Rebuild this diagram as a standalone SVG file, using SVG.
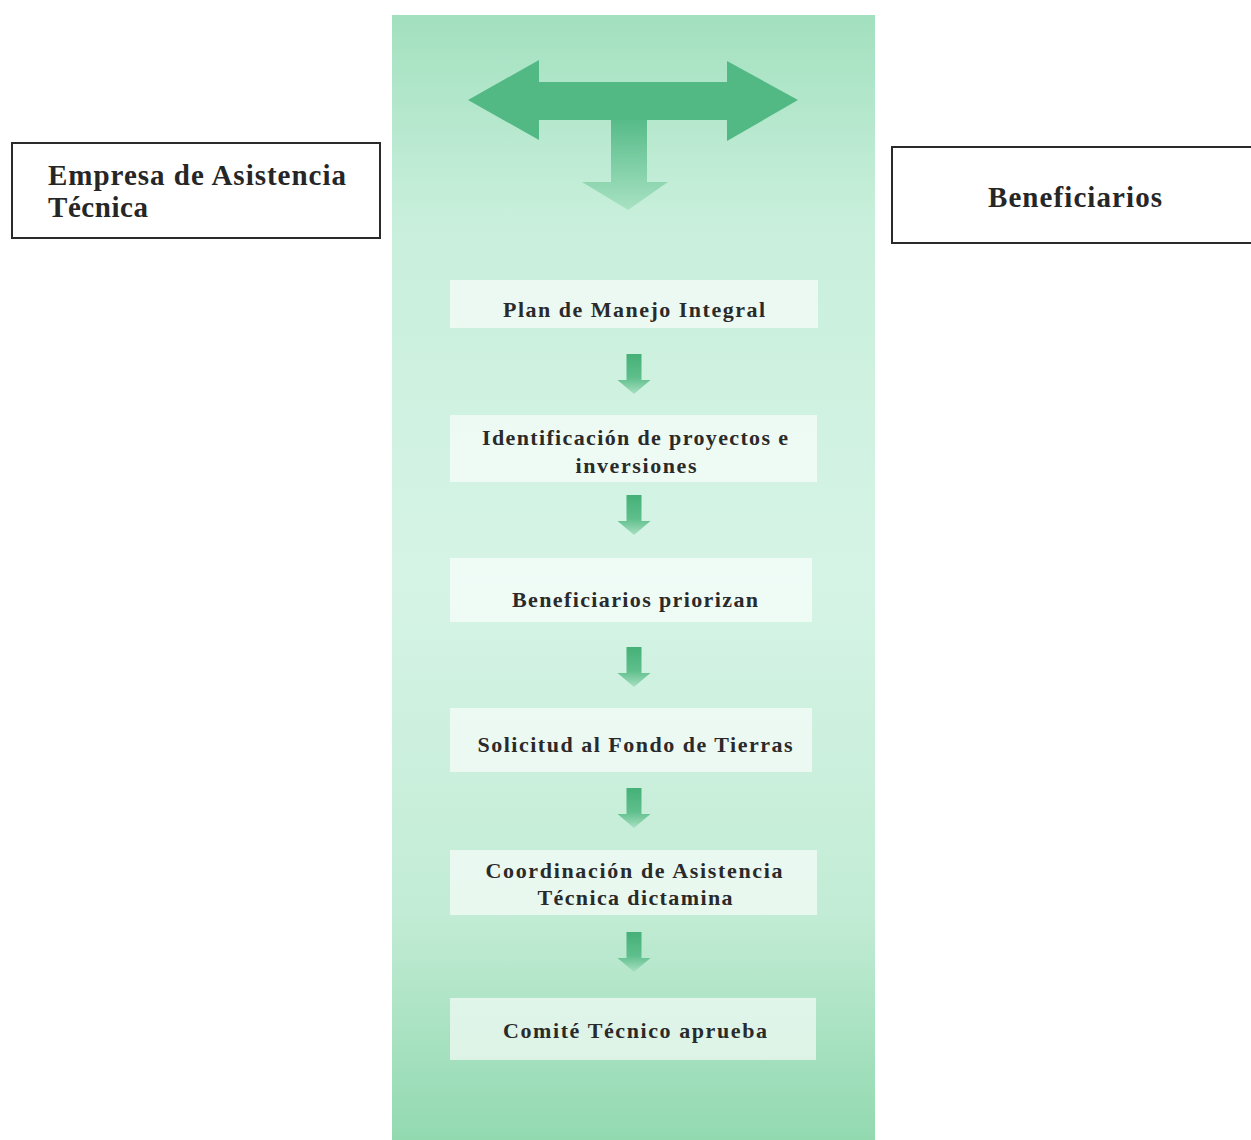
<svg xmlns="http://www.w3.org/2000/svg" width="1251" height="1140" viewBox="0 0 1251 1140">
  <style>
    .side { fill: #ffffff; stroke: #2a2a2a; stroke-width: 2; }
    .sideText { font-family: "Liberation Serif", "Times New Roman", serif; font-weight: bold; font-size: 29px; fill: #262626; }
    .step { fill: #ffffff; fill-opacity: 0.62; }
    .stepText { font-family: "Liberation Serif", "Times New Roman", serif; font-weight: bold; font-size: 22px; fill: #2a2a2a; text-anchor: middle; }
  </style>
  <defs>
    <linearGradient id="colGrad" x1="0" y1="0" x2="0" y2="1">
      <stop offset="0" stop-color="#a2e0bf"/>
      <stop offset="0.18" stop-color="#c8efdb"/>
      <stop offset="0.5" stop-color="#d6f4e6"/>
      <stop offset="0.8" stop-color="#c2ecd5"/>
      <stop offset="1" stop-color="#92d9b0"/>
    </linearGradient>
    <linearGradient id="stemGrad" gradientUnits="userSpaceOnUse" x1="0" y1="115" x2="0" y2="210">
      <stop offset="0" stop-color="#52b985"/>
      <stop offset="1" stop-color="#a8e2c3"/>
    </linearGradient>
    <linearGradient id="smallArrow" x1="0" y1="0" x2="0" y2="1">
      <stop offset="0" stop-color="#45b078"/>
      <stop offset="0.6" stop-color="#5fbf8c"/>
      <stop offset="1" stop-color="#a9e0c2"/>
    </linearGradient>
    <path id="dn" d="M -7.5 0 H 7.5 V 26 H 16.5 L 0 40 L -16.5 26 H -7.5 Z"/>
  </defs>

  <rect width="1251" height="1140" fill="#ffffff"/>

  <g id="column">
    <rect x="392" y="15" width="483" height="1125" fill="url(#colGrad)"/>
  </g>

  <g id="t-arrow">
    <path d="M 611 115 H 647 V 182 H 668 L 628 210 L 582 182 H 611 Z" fill="url(#stemGrad)"/>
    <path d="M 468 100 L 539 60 V 82 H 727 V 61 L 798 100 L 727 141 V 120 H 539 V 140 Z" fill="#52b985"/>
  </g>

  <g id="node-empresa">
    <rect class="side" x="12" y="143" width="368" height="95"/>
    <text class="sideText" x="48" y="185" textLength="298" lengthAdjust="spacing">Empresa de Asistencia</text>
    <text class="sideText" x="48" y="217" textLength="100" lengthAdjust="spacing">Técnica</text>
  </g>

  <g id="node-beneficiarios">
    <rect class="side" x="892" y="147" width="370" height="96"/>
    <text class="sideText" x="988" y="207" textLength="174" lengthAdjust="spacing">Beneficiarios</text>
  </g>

  <g id="node-plan">
    <rect class="step" x="450" y="280" width="368" height="48"/>
    <text class="stepText" x="634" y="317" textLength="262" lengthAdjust="spacing">Plan de Manejo Integral</text>
  </g>

  <g id="node-identificacion">
    <rect class="step" x="450" y="415" width="367" height="67"/>
    <text class="stepText" x="635" y="445" textLength="306" lengthAdjust="spacing">Identificación de proyectos e</text>
    <text class="stepText" x="636" y="473" textLength="121" lengthAdjust="spacing">inversiones</text>
  </g>

  <g id="node-priorizan">
    <rect class="step" x="450" y="558" width="362" height="64"/>
    <text class="stepText" x="635" y="607" textLength="246" lengthAdjust="spacing">Beneficiarios priorizan</text>
  </g>

  <g id="node-solicitud">
    <rect class="step" x="450" y="708" width="362" height="64"/>
    <text class="stepText" x="635" y="752" textLength="315" lengthAdjust="spacing">Solicitud al Fondo de Tierras</text>
  </g>

  <g id="node-coordinacion">
    <rect class="step" x="450" y="850" width="367" height="65"/>
    <text class="stepText" x="634" y="878" textLength="297" lengthAdjust="spacing">Coordinación de Asistencia</text>
    <text class="stepText" x="635" y="905" textLength="195" lengthAdjust="spacing">Técnica dictamina</text>
  </g>

  <g id="node-comite">
    <rect class="step" x="450" y="998" width="366" height="62"/>
    <text class="stepText" x="635" y="1038" textLength="264" lengthAdjust="spacing">Comité Técnico aprueba</text>
  </g>

  <g id="connectors" fill="url(#smallArrow)">
    <use href="#dn" x="634" y="354"/>
    <use href="#dn" x="634" y="495"/>
    <use href="#dn" x="634" y="647"/>
    <use href="#dn" x="634" y="788"/>
    <use href="#dn" x="634" y="932"/>
  </g>
</svg>
